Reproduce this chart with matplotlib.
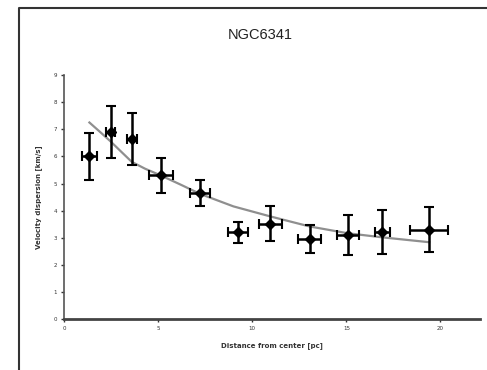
import numpy as np
import matplotlib
matplotlib.use("Agg")
import matplotlib.pyplot as plt
from matplotlib.lines import Line2D

# measured points (distance in pc, dispersion in km/s)
dist = [1.35, 2.48, 3.6, 5.14, 7.23, 9.26, 10.96, 13.05, 15.07, 16.9, 19.38]
disp = [6.0, 6.91, 6.64, 5.3, 4.65, 3.2, 3.52, 2.96, 3.11, 3.21, 3.3]
disp_err = [0.85, 0.95, 0.97, 0.65, 0.48, 0.4, 0.65, 0.52, 0.75, 0.8, 0.83]
dist_err = [0.42, 0.24, 0.27, 0.65, 0.53, 0.53, 0.61, 0.62, 0.59, 0.4, 1.0]

# fitted curve
fit_x = [1.35, 2.0, 2.48, 3.0, 3.6, 4.3, 5.14, 6.2, 7.23, 9.0, 10.96, 13.05, 15.07, 16.9, 19.4]
fit_y = [7.25, 6.85, 6.55, 6.2, 5.8, 5.55, 5.3, 4.96, 4.62, 4.16, 3.79, 3.42, 3.17, 3.02, 2.84]

xticks = [0, 5, 10, 15, 20]
yticks = [0, 1, 2, 3, 4, 5, 6, 7, 8, 9]

fig = plt.figure(figsize=(4.87, 3.7), dpi=100)
ax = fig.add_axes([64 / 487, 1 - 319.3 / 370, (480 - 64) / 487, (319.3 - 75) / 370])

ax.plot(fit_x, fit_y, color="#8f8f8f", lw=1.6, zorder=2)
ax.errorbar(dist, disp, yerr=disp_err, xerr=dist_err, fmt="D", color="black",
            ms=5.5, elinewidth=1.8, capsize=3.5, capthick=1.5, zorder=3)

ax.set_xlim(0, 22.1)
ax.set_ylim(0, 9)
ax.set_xticks(xticks)
ax.set_yticks(yticks)
ax.tick_params(labelsize=4, length=2, width=1, pad=3, colors="#333333")
for s in ["top", "right"]:
    ax.spines[s].set_visible(False)
ax.spines["bottom"].set_linewidth(2)
ax.spines["bottom"].set_color("#444444")
ax.spines["left"].set_linewidth(1.2)
ax.spines["left"].set_color("#555555")

ax.set_xlabel("Distance from center [pc]", fontsize=5, fontweight="bold", color="#333333", labelpad=8)
ax.set_ylabel("Velocity dispersion [km/s]", fontsize=5, fontweight="bold", color="#333333", labelpad=8)

fig.text(260 / 487, 1 - 35 / 370, "NGC6341", ha="center", va="center", fontsize=10.5,
         family="Liberation Sans", color="#222222")

# outer frame (left and top edges only visible)
fig.add_artist(Line2D([19 / 487, 19 / 487, 1.0], [0.0, 1 - 8 / 370, 1 - 8 / 370],
                      transform=fig.transFigure, color="#333333", lw=1.5))

fig.savefig("out.png", dpi=100)
